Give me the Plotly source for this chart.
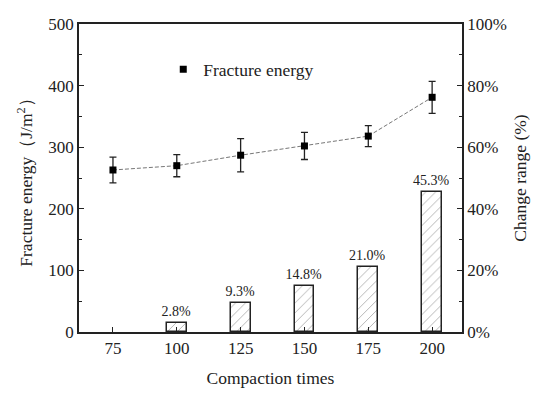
import plotly.graph_objects as go

compaction = [75, 100, 125, 150, 175, 200]
fracture_energy = [263, 270, 287, 302, 318, 381]
energy_err = [21, 18, 27, 22, 17, 26]
change_range = [0, 2.8, 9.3, 14.8, 21.0, 45.3]

# the 75-times case is the baseline (0% change) and has no bar in the chart
bar_x = [c for c, v in zip(compaction, change_range) if v > 0]
bar_y = [v for v in change_range if v > 0]
bar_labels = [f"{v:.1f}%" for v in bar_y]

FONT = "Liberation Serif"

fig = go.Figure()

fig.add_trace(go.Bar(
    x=bar_x, y=bar_y, yaxis="y2",
    width=7.8,
    marker=dict(color="white", line=dict(color="#222", width=1.5),
                pattern=dict(shape="/", fgcolor="#555", bgcolor="white", size=7, solidity=0.12)),
    text=bar_labels, textposition="outside", cliponaxis=False, constraintext="none",
    textfont=dict(family=FONT, size=14, color="#222"),
    showlegend=False,
))

fig.add_trace(go.Scatter(
    x=compaction, y=fracture_energy, mode="lines",
    line=dict(color="#777", width=1, dash="4px,2px"),
    showlegend=False, hoverinfo="skip",
))

fig.add_trace(go.Scatter(
    x=compaction, y=fracture_energy, mode="markers",
    name="Fracture energy",
    marker=dict(symbol="square", size=7, color="black"),
    error_y=dict(type="data", array=energy_err, color="#222", thickness=1.3, width=3.5),
))

axis_common = dict(
    showline=True, linecolor="#222", linewidth=1.5,
    ticks="inside", ticklen=5, tickwidth=1.3, tickcolor="#222",
    tickfont=dict(family=FONT, size=17, color="#222"),
    showgrid=False, zeroline=False,
)

fig.update_layout(
    width=550, height=397,
    margin=dict(l=79, r=88, t=24, b=65),
    paper_bgcolor="white", plot_bgcolor="white",
    font=dict(family=FONT, color="#222"),
    xaxis=dict(
        **axis_common, range=[61.7, 211.7], tickvals=compaction, mirror=True,
        title=dict(text="Compaction times", font=dict(family=FONT, size=17.5), standoff=15),
    ),
    yaxis=dict(
        **axis_common, range=[0, 500], tickvals=[0, 100, 200, 300, 400, 500],
        minor=dict(ticks="inside", ticklen=3, tickcolor="#222", dtick=50, showgrid=False),
        title=dict(text="Fracture energy（J/m<sup>2</sup>）", font=dict(family=FONT, size=17.5), standoff=11),
    ),
    yaxis2=dict(
        **axis_common, overlaying="y", side="right", range=[0, 100],
        tickvals=[0, 20, 40, 60, 80, 100], ticktext=["0%", "20%", "40%", "60%", "80%", "100%"],
        minor=dict(ticks="inside", ticklen=3, tickcolor="#222", dtick=10, showgrid=False),
        title=dict(text="Change range (%)", font=dict(family=FONT, size=17.5), standoff=8),
    ),
    legend=dict(x=0.22, y=0.853, xanchor="left", yanchor="middle", bgcolor="rgba(0,0,0,0)",
                font=dict(family=FONT, size=17.5, color="#222")),
    bargap=0,
)

# remove the browser's default page margin so the figure sits at the window origin
fig.write_html("out.html", config={"displayModeBar": False},
               post_script="document.body.style.margin='0';")
